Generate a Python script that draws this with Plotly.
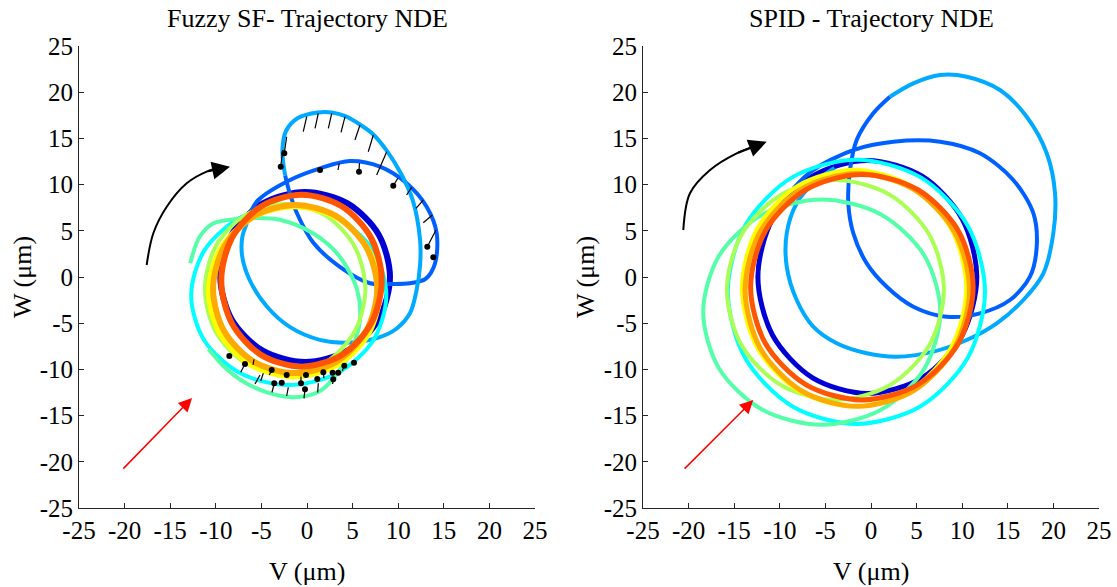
import plotly.graph_objects as go

# ---------------- data : Fuzzy SF (left) ----------------
tick_vals = [-25, -20, -15, -10, -5, 0, 5, 10, 15, 20, 25]
tick_text = ["-25", "-20", "-15", "-10", "-5", "0", "5", "10", "15", "20", "25"]

fz_darkblue_v = [9.1, 7.85, 4.45, -0.2, -4.85, -8.25, -9.5, -8.25, -4.85, -0.2, 4.45, 7.85, 9.1]
fz_darkblue_w = [0, 4.6, 7.97, 9.2, 7.97, 4.6, 0, -4.6, -7.97, -9.2, -7.97, -4.6, 0]

fz_blue_v = [-6.2, -5.34, -1.86, 1.43, 4.71, 8.0, 10.93, 13.12, 14.22, 14.04, 13.0, 11.29, 8.9, 6.91, 3.6, 0.7, -1.1, -1.9, -2.4]
fz_blue_w = [7.0, 8.33, 10.5, 11.76, 12.55, 11.94, 10.14, 7.6, 4.73, 1.48, -0.2, -0.68, -0.75, -0.68, 1.1, 3.7, 6.9, 9.1, 11.0]

fz_lightblue_v = [-2.4, -2.7, -2.3, -1.0, 1.2, 2.7, 4.2, 5.8, 7.3, 8.8, 10.3, 11.6, 12.4, 12.4, 12.0, 11.3, 9.8, 8.0, 4.7, 1.4, -1.9, -4.4, -6.3, -7.1, -7.1, -6.6]
fz_lightblue_w = [11.0, 13.7, 15.8, 17.2, 17.8, 17.8, 17.4, 16.5, 15.4, 13.6, 11.2, 8.3, 4.0, 1.3, -1.5, -3.9, -5.6, -6.5, -7.1, -6.8, -5.4, -3.2, -0.3, 2.2, 4.3, 5.8]

fz_cyan_v = [8.7, 7.27, 3.35, -2.0, -7.35, -11.27, -12.7, -11.27, -7.35, -2.0, 3.35, 7.27, 8.7]
fz_cyan_w = [-2.0, 2.85, 6.4, 7.7, 6.4, 2.85, -2.0, -6.85, -10.4, -11.7, -10.4, -6.85, -2.0]

fz_aqua_v = [-12.8, -11.8, -10.3, -6.6, -3.0, 0.7, 3.6, 5.5, 5.8, 5.0, 3.5, 1.5, -1.0, -4.0, -7.0, -9.2, -10.8]
fz_aqua_w = [1.5, 4.3, 5.8, 6.35, 6.2, 4.7, 2.2, -1.4, -4.7, -7.6, -10.2, -12.3, -13.0, -12.6, -11.3, -9.6, -7.8]

fz_ygreen_v = [6.4, 5.22, 2.0, -2.4, -6.8, -10.02, -11.2, -10.02, -6.8, -2.4, 2.0, 5.22, 6.4]
fz_ygreen_w = [-1.3, 3.3, 6.67, 7.9, 6.67, 3.3, -1.3, -5.9, -9.27, -10.5, -9.27, -5.9, -1.3]

fz_yellow_v = [8.0, 6.74, 3.3, -1.4, -6.1, -9.54, -10.8, -9.54, -6.1, -1.4, 3.3, 6.74, 8.0]
fz_yellow_w = [-1.6, 3.0, 6.37, 7.6, 6.37, 3.0, -1.6, -6.2, -9.57, -10.8, -9.57, -6.2, -1.6]

fz_orange_v = [7.7, 6.49, 3.2, -1.3, -5.8, -9.09, -10.3, -9.09, -5.8, -1.3, 3.2, 6.49, 7.7]
fz_orange_w = [-1.3, 3.25, 6.58, 7.8, 6.58, 3.25, -1.3, -5.85, -9.18, -10.4, -9.18, -5.85, -1.3]

fz_red_v = [8.2, 7.02, 3.8, -0.6, -5.0, -8.22, -9.4, -8.22, -5.0, -0.6, 3.8, 7.02, 8.2]
fz_red_w = [-0.4, 4.25, 7.65, 8.9, 7.65, 4.25, -0.4, -5.05, -8.45, -9.7, -8.45, -5.05, -0.4]

# stick markers (start -> end) and dots
up_seg_v0 = [-0.03, 1.24, 2.71, 4.17, 5.81, 7.27, 8.74, -2.23, -2.66, 3.54, 5.75, 9.98, 11.47, 12.75, 13.74, 14.14]
up_seg_w0 = [17.35, 17.72, 17.72, 17.35, 16.45, 15.37, 13.56, 15.18, 13.74, 12.31, 12.34, 10.71, 9.71, 8.33, 6.71, 5.09]
up_seg_v1 = [-0.41, 0.88, 2.34, 3.73, 5.26, 6.72, 7.64, -2.49, -2.88, 3.40, 5.70, 9.46, 10.92, 11.95, 12.75, 13.19]
up_seg_w1 = [15.73, 16.09, 16.09, 15.66, 14.83, 13.56, 11.04, 13.39, 11.94, 11.58, 11.40, 9.88, 8.87, 7.43, 5.88, 3.28]
up_dot_v = [-2.49, -2.88, 1.43, 5.7, 9.46, 13.19, 13.85]
up_dot_w = [13.39, 11.94, 11.58, 11.4, 9.88, 3.28, 2.13]

lo_seg_v0 = [-6.8, -5.81, -5.15, -4.79, -3.87, -3.59, -2.05, -0.22, -0.66, 1.24, 1.79, 2.88, 4.09]
lo_seg_w0 = [-9.42, -8.91, -10.6, -10.42, -10.06, -11.5, -11.94, -12.15, -10.78, -11.5, -10.31, -11.07, -9.6]
lo_seg_v1 = [-7.27, -5.92, -5.7, -5.08, -4.13, -3.84, -2.23, -0.33, -0.66, 1.17, 1.86, 2.81, 3.87]
lo_seg_w1 = [-10.31, -9.52, -11.58, -11.26, -10.6, -12.48, -12.88, -13.13, -11.5, -12.5, -10.96, -11.58, -10.14]
lo_dot_v = [-8.52, -6.8, -3.87, -2.23, -2.77, -3.59, -0.11, -0.66, -0.22, 1.13, 1.79, 2.88, 2.81, 3.43, 4.09, 5.15]
lo_dot_w = [-8.55, -9.42, -10.06, -10.6, -11.44, -11.5, -10.6, -11.5, -12.15, -11.04, -10.31, -11.07, -10.35, -10.35, -9.6, -9.27]

fz_arc_v = [-17.58, -16.85, -15.38, -13.19, -11.0, -9.4]
fz_arc_w = [1.3, 4.73, 7.6, 10.14, 11.4, 11.85]
fz_arc_tip = (-8.44, 11.94)
fz_red_arrow = (-20.3, -20.9, -12.6, -13.1)

# ---------------- data : SPID (right) ----------------
sp_darkblue_v = [11.6, 9.99, 5.6, -0.4, -6.4, -10.79, -12.4, -10.79, -6.4, -0.4, 5.6, 9.99, 11.6]
sp_darkblue_w = [0, 6.3, 10.91, 12.6, 10.91, 6.3, 0, -6.3, -10.91, -12.6, -10.91, -6.3, 0]

sp_blue_v = [-8.5, -6.33, -1.94, 2.45, 7.57, 11.95, 15.6, 17.8, 18.17, 17.43, 15.24, 11.95, 8.3, 4.64, 1.72, -0.47, -1.94, -2.49, -2.3, -1.57, 0.25, 2.08]
sp_blue_w = [9.6, 11.58, 13.74, 14.64, 14.64, 13.39, 10.5, 6.9, 3.28, 0.03, -2.49, -3.93, -4.3, -3.21, -1.05, 1.48, 4.73, 7.98, 11.58, 14.83, 17.72, 19.51]

sp_lightblue_v = [2.08, 4.64, 7.57, 10.49, 14.14, 17.07, 19.27, 20.18, 19.99, 18.9, 16.7, 13.79, 10.49, 6.83, 2.82, -0.47, -3.76, -6.33, -8.15, -9.24, -9.24, -8.15, -6.33, -4.0]
sp_lightblue_w = [19.51, 20.96, 21.86, 21.68, 20.24, 17.35, 13.39, 9.06, 4.73, 0.4, -2.49, -5.01, -6.82, -8.08, -8.63, -8.26, -7.18, -5.38, -2.49, 1.12, 4.73, 7.98, 10.14, 11.8]

sp_cyan_v = [12.5, 10.61, 5.45, -1.6, -8.65, -13.81, -15.7, -13.81, -8.65, -1.6, 5.45, 10.61, 12.5]
sp_cyan_w = [-1.6, 5.55, 10.78, 12.7, 10.78, 5.55, -1.6, -8.75, -13.98, -15.9, -13.98, -8.75, -1.6]

sp_aqua_v = [7.6, 5.86, 1.1, -5.4, -11.9, -16.66, -18.4, -16.66, -11.9, -5.4, 1.1, 5.86, 7.6]
sp_aqua_w = [-3.8, 2.3, 6.77, 8.4, 6.77, 2.3, -3.8, -9.9, -14.37, -16.0, -14.37, -9.9, -3.8]

sp_ygreen_v = [8.0, 6.41, 2.05, -3.9, -9.85, -14.21, -15.8, -14.21, -9.85, -3.9, 2.05, 6.41, 8.0]
sp_ygreen_w = [-1.4, 4.55, 8.91, 10.5, 8.91, 4.55, -1.4, -7.35, -11.71, -13.3, -11.71, -7.35, -1.4]

sp_yellow_v = [10.45, 8.8, 4.3, -1.85, -8.0, -12.5, -14.15, -12.5, -8.0, -1.85, 4.3, 8.8, 10.45]
sp_yellow_w = [-1.2, 5.2, 9.88, 11.6, 9.88, 5.2, -1.2, -7.6, -12.28, -14.0, -12.28, -7.6, -1.2]

sp_orange_v = [10.8, 9.15, 4.65, -1.5, -7.65, -12.15, -13.8, -12.15, -7.65, -1.5, 4.65, 9.15, 10.8]
sp_orange_w = [-1.4, 4.9, 9.51, 11.2, 9.51, 4.9, -1.4, -7.7, -12.31, -14.0, -12.31, -7.7, -1.4]

sp_red_v = [11.2, 9.57, 5.1, -1.0, -7.1, -11.57, -13.2, -11.57, -7.1, -1.0, 5.1, 9.57, 11.2]
sp_red_w = [-1.1, 5.0, 9.47, 11.1, 9.47, 5.0, -1.1, -7.2, -11.67, -13.3, -11.67, -7.2, -1.1]

sp_arc_v = [-20.58, -19.85, -17.65, -14.73, -12.3]
sp_arc_w = [5.09, 9.06, 11.58, 13.39, 14.3]
sp_arc_tip = (-11.44, 14.64)
sp_red_arrow = (-20.6, -20.9, -12.91, -13.31)

# ---------------- styles ----------------
C_DB = "#0000D4"
C_B = "#0060FF"
C_LB = "#00AAFF"
C_CY = "#00FFFF"
C_AQ = "#55FFAA"
C_YG = "#AAFF55"
C_Y = "#FFFF00"
C_O = "#FFAA00"
C_R = "#FF5500"
FONT = "Times New Roman, Liberation Serif, Times, serif"

fig = go.Figure()


def loop(v, w, color, width, xa, ya):
    fig.add_trace(go.Scatter(x=v, y=w, mode="lines", xaxis=xa, yaxis=ya,
                             line=dict(color=color, width=width, shape="spline", smoothing=0.9),
                             hoverinfo="skip", showlegend=False))


def segs(v0, w0, v1, w1, xa, ya):
    xs, ys = [], []
    for a, b, c, d in zip(v0, w0, v1, w1):
        xs += [a, c, None]
        ys += [b, d, None]
    fig.add_trace(go.Scatter(x=xs, y=ys, mode="lines", xaxis=xa, yaxis=ya,
                             line=dict(color="black", width=1.2),
                             hoverinfo="skip", showlegend=False))


def dots(v, w, xa, ya):
    fig.add_trace(go.Scatter(x=v, y=w, mode="markers", xaxis=xa, yaxis=ya,
                             marker=dict(color="black", size=6),
                             hoverinfo="skip", showlegend=False))


# left
loop(fz_darkblue_v, fz_darkblue_w, C_DB, 6, "x", "y")
loop(fz_blue_v, fz_blue_w, C_B, 4, "x", "y")
loop(fz_lightblue_v, fz_lightblue_w, C_LB, 4, "x", "y")
loop(fz_cyan_v, fz_cyan_w, C_CY, 4, "x", "y")
loop(fz_aqua_v, fz_aqua_w, C_AQ, 4, "x", "y")
loop(fz_ygreen_v, fz_ygreen_w, C_YG, 4, "x", "y")
loop(fz_yellow_v, fz_yellow_w, C_Y, 5, "x", "y")
loop(fz_orange_v, fz_orange_w, C_O, 6, "x", "y")
loop(fz_red_v, fz_red_w, C_R, 6, "x", "y")
segs(up_seg_v0, up_seg_w0, up_seg_v1, up_seg_w1, "x", "y")
dots(up_dot_v, up_dot_w, "x", "y")
segs(lo_seg_v0, lo_seg_w0, lo_seg_v1, lo_seg_w1, "x", "y")
dots(lo_dot_v, lo_dot_w, "x", "y")
fig.add_trace(go.Scatter(x=fz_arc_v, y=fz_arc_w, mode="lines", xaxis="x", yaxis="y",
                         line=dict(color="black", width=2, shape="spline"),
                         hoverinfo="skip", showlegend=False))

# right
loop(sp_darkblue_v, sp_darkblue_w, C_DB, 5, "x2", "y2")
loop(sp_blue_v, sp_blue_w, C_B, 4, "x2", "y2")
loop(sp_lightblue_v, sp_lightblue_w, C_LB, 4, "x2", "y2")
loop(sp_cyan_v, sp_cyan_w, C_CY, 4, "x2", "y2")
loop(sp_aqua_v, sp_aqua_w, C_AQ, 4, "x2", "y2")
loop(sp_ygreen_v, sp_ygreen_w, C_YG, 4, "x2", "y2")
loop(sp_yellow_v, sp_yellow_w, C_Y, 4, "x2", "y2")
loop(sp_orange_v, sp_orange_w, C_O, 5, "x2", "y2")
loop(sp_red_v, sp_red_w, C_R, 5, "x2", "y2")
fig.add_trace(go.Scatter(x=sp_arc_v, y=sp_arc_w, mode="lines", xaxis="x2", yaxis="y2",
                         line=dict(color="black", width=2, shape="spline"),
                         hoverinfo="skip", showlegend=False))

annos = []
for xr, yr, arcv, arcw, tip, red in [("x", "y", fz_arc_v, fz_arc_w, fz_arc_tip, fz_red_arrow),
                                     ("x2", "y2", sp_arc_v, sp_arc_w, sp_arc_tip, sp_red_arrow)]:
    annos.append(dict(x=tip[0], y=tip[1], ax=arcv[-2], ay=arcw[-2], xref=xr, yref=yr,
                      axref=xr, ayref=yr, showarrow=True, arrowhead=2, arrowsize=1.8,
                      arrowwidth=2, arrowcolor="black", text=""))
    annos.append(dict(x=red[2], y=red[3], ax=red[0], ay=red[1], xref=xr, yref=yr,
                      axref=xr, ayref=yr, showarrow=True, arrowhead=2, arrowsize=1.8,
                      arrowwidth=1.5, arrowcolor="#FF0000", text=""))

W, H = 1117, 587
dom1 = [79 / W, 535 / W]
dom2 = [643 / W, 1099 / W]
ydom = [(H - 508) / H, (H - 46) / H]
tfont = dict(family=FONT, size=26, color="black")

for txt, xc in [("Fuzzy SF- Trajectory NDE", sum(dom1) / 2), ("SPID - Trajectory NDE", sum(dom2) / 2)]:
    annos.append(dict(text=txt, x=xc, y=(H - 18) / H, xref="paper", yref="paper",
                      showarrow=False, font=tfont, xanchor="center", yanchor="middle"))
for xc in [sum(dom1) / 2, sum(dom2) / 2]:
    annos.append(dict(text="V (μm)", x=xc, y=(H - 571) / H, xref="paper", yref="paper",
                      showarrow=False, font=tfont, xanchor="center", yanchor="middle"))
for xp in [22 / W, 585 / W]:
    annos.append(dict(text="W (μm)", x=xp, y=(H - 277) / H, xref="paper", yref="paper",
                      showarrow=False, font=tfont, textangle=-90, xanchor="center", yanchor="middle"))

axis_common = dict(range=[-25, 25], tickvals=tick_vals, ticktext=tick_text, showgrid=False,
                   zeroline=False, showline=True, linecolor="#262626", linewidth=1,
                   mirror=False, ticks="inside", ticklen=5, tickcolor="#262626",
                   automargin=False,
                   tickfont=dict(family=FONT, size=25, color="black"))

fig.update_layout(
    width=W, height=H, margin=dict(l=0, r=0, t=0, b=0, autoexpand=False),
    paper_bgcolor="white", plot_bgcolor="white", showlegend=False,
    xaxis=dict(domain=dom1, anchor="y", **axis_common),
    yaxis=dict(domain=ydom, anchor="x", **axis_common),
    xaxis2=dict(domain=dom2, anchor="y2", **axis_common),
    yaxis2=dict(domain=ydom, anchor="x2", **axis_common),
    annotations=annos,
)

fig.write_html("out.html", config={"displayModeBar": False},
               post_script="document.body.style.margin='0';document.body.style.padding='0';"
                           "document.documentElement.style.overflow='hidden';")
